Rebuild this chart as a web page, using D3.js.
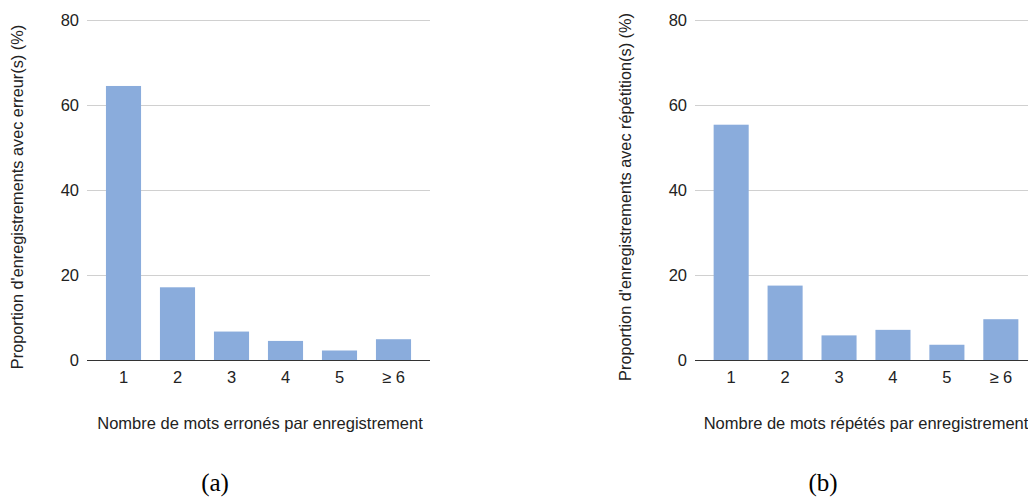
<!DOCTYPE html>
<html><head><meta charset="utf-8">
<script src="https://cdn.jsdelivr.net/npm/d3@7"></script>
<style>
html,body{margin:0;padding:0;background:#fff;}
svg{display:block;}
</style></head>
<body>
<svg id="chart" width="1028" height="499"></svg>
<script>
const categories = ["1", "2", "3", "4", "5", "\u2265 6"];
const errorValues = [64.5, 17.2, 6.8, 4.6, 2.35, 5.0];
const repeatValues = [55.4, 17.6, 5.9, 7.2, 3.7, 9.7];
const yTicks = [0, 20, 40, 60, 80];
const yTitles = ["Proportion d'enregistrements avec erreur(s) (%)", "Proportion d'enregistrements avec répétition(s) (%)"];
const xTitles = ["Nombre de mots erronés par enregistrement", "Nombre de mots répétés par enregistrement"];
const captions = ["(a)", "(b)"];

const svg = d3.select("#chart");
const font = "'Liberation Sans', Arial, sans-serif";
const textColor = "#222";

const panels = [
  {values: errorValues, gridL: 87, gridR: 430, bandL: 96.5, bandR: 420.5, yTitleX: 17, labelX: 79, xTitleX: 260, capX: 215},
  {values: repeatValues, gridL: 695, gridR: 1040, bandL: 704.2, bandR: 1027.8, yTitleX: 625, labelX: 687, xTitleX: 866, capX: 823}
];

const y = d3.scaleLinear().domain([0, 80]).range([360.5, 20]);

panels.forEach((p, i) => {
  const g = svg.append("g");
  const x = d3.scaleBand().domain(categories).range([p.bandL, p.bandR]).paddingInner(0.35).paddingOuter(0.175);

  g.selectAll("line.grid").data(yTicks.filter(d => d > 0)).join("line")
    .attr("x1", p.gridL).attr("x2", p.gridR)
    .attr("y1", d => Math.round(y(d)) + 0.5).attr("y2", d => Math.round(y(d)) + 0.5)
    .attr("stroke", "#d0d0d0").attr("stroke-width", 1);

  g.selectAll("text.ylab").data(yTicks).join("text")
    .attr("x", p.labelX).attr("y", d => y(d)).attr("dy", "0.35em")
    .attr("text-anchor", "end").attr("font-family", font).attr("font-size", 16.5).attr("fill", textColor)
    .text(d => d);

  g.selectAll("rect").data(p.values).join("rect")
    .attr("x", (d, j) => x(categories[j]))
    .attr("width", x.bandwidth())
    .attr("y", d => y(d))
    .attr("height", d => y(0) - y(d))
    .attr("fill", "#8aacdc");

  g.append("line").attr("x1", p.gridL).attr("x2", p.gridR)
    .attr("y1", 360.5).attr("y2", 360.5).attr("stroke", "#333").attr("stroke-width", 1);

  const xAxis = d3.axisBottom(x).tickSize(0).tickPadding(11);
  const ax = g.append("g").attr("transform", "translate(0,360.5)").call(xAxis);
  ax.select(".domain").remove();
  ax.selectAll("text").attr("font-size", 16.5).attr("fill", textColor).attr("font-family", font);

  g.append("text").attr("x", p.xTitleX).attr("y", 429)
    .attr("text-anchor", "middle").attr("font-family", font).attr("font-size", 16.5).attr("fill", textColor)
    .text(xTitles[i]);

  g.append("text").attr("transform", `translate(${p.yTitleX},${197}) rotate(-90)`)
    .attr("text-anchor", "middle").attr("dy", "0.35em").attr("font-family", font).attr("font-size", 16.3).attr("fill", textColor)
    .text(yTitles[i]);

  g.append("text").attr("x", p.capX).attr("y", 491)
    .attr("text-anchor", "middle").attr("font-family", "'Liberation Serif','DejaVu Serif',serif").attr("font-size", 25).attr("fill", "#000")
    .text(captions[i]);
});
</script>
</body></html>
